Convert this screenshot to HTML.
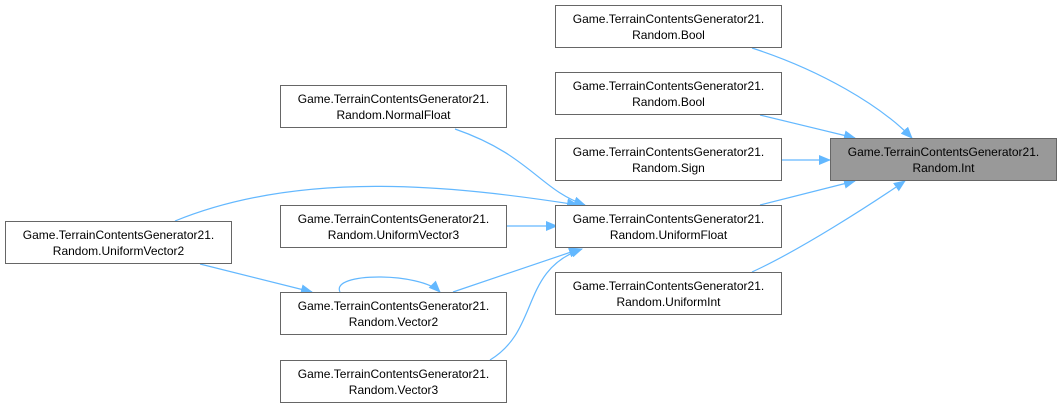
<!DOCTYPE html>
<html><head><meta charset="utf-8"><style>
body{margin:0;width:1064px;height:411px;background:#fff;overflow:hidden;font-family:"Liberation Sans",Arial,sans-serif}
.n{position:absolute;box-sizing:border-box;border:1px solid #666;background:#fff;font-size:12px;line-height:16px;text-align:center;padding-top:5px;color:#000;height:43px}
</style></head><body>
<svg width="1064" height="411" style="position:absolute;left:0;top:0">
<defs><marker id="a" markerWidth="12" markerHeight="10" refX="11" refY="5" orient="auto" markerUnits="userSpaceOnUse"><path d="M0,0 L12,5 L0,10 z" fill="#63b8ff"/></marker></defs>
<g fill="none" stroke="#63b8ff" stroke-width="1.2" marker-end="url(#a)">
<path d="M752,48 C820,70 880,105 912,138"/>
<path d="M760,115 L855,138"/>
<path d="M782,160 L830,160"/>
<path d="M760,205 L855,181"/>
<path d="M752,272 C800,250 870,205 905,181"/>
<path d="M455,129 C530,155 540,190 585,205"/>
<path d="M507,226 L557,226"/>
<path d="M175,221 C300,170 450,185 578,205"/>
<path d="M453,292 L580,249"/>
<path d="M340,292 C330,272 420,272 440,292"/>
<path d="M200,264 L312,292"/>
<path d="M490,360 C540,330 520,270 582,249"/>
</g></svg>
<div class="n" style="left:555px;top:5px;width:227px">Game.TerrainContentsGenerator21.<br>Random.Bool</div>
<div class="n" style="left:555px;top:72px;width:227px">Game.TerrainContentsGenerator21.<br>Random.Bool</div>
<div class="n" style="left:555px;top:138px;width:227px">Game.TerrainContentsGenerator21.<br>Random.Sign</div>
<div class="n" style="left:555px;top:205px;width:227px">Game.TerrainContentsGenerator21.<br>Random.UniformFloat</div>
<div class="n" style="left:555px;top:272px;width:227px">Game.TerrainContentsGenerator21.<br>Random.UniformInt</div>
<div class="n" style="left:830px;top:138px;width:227px;background:#999">Game.TerrainContentsGenerator21.<br>Random.Int</div>
<div class="n" style="left:280px;top:85px;width:227px">Game.TerrainContentsGenerator21.<br>Random.NormalFloat</div>
<div class="n" style="left:280px;top:205px;width:227px">Game.TerrainContentsGenerator21.<br>Random.UniformVector3</div>
<div class="n" style="left:280px;top:292px;width:227px">Game.TerrainContentsGenerator21.<br>Random.Vector2</div>
<div class="n" style="left:280px;top:360px;width:227px">Game.TerrainContentsGenerator21.<br>Random.Vector3</div>
<div class="n" style="left:5px;top:221px;width:227px">Game.TerrainContentsGenerator21.<br>Random.UniformVector2</div>
</body></html>
